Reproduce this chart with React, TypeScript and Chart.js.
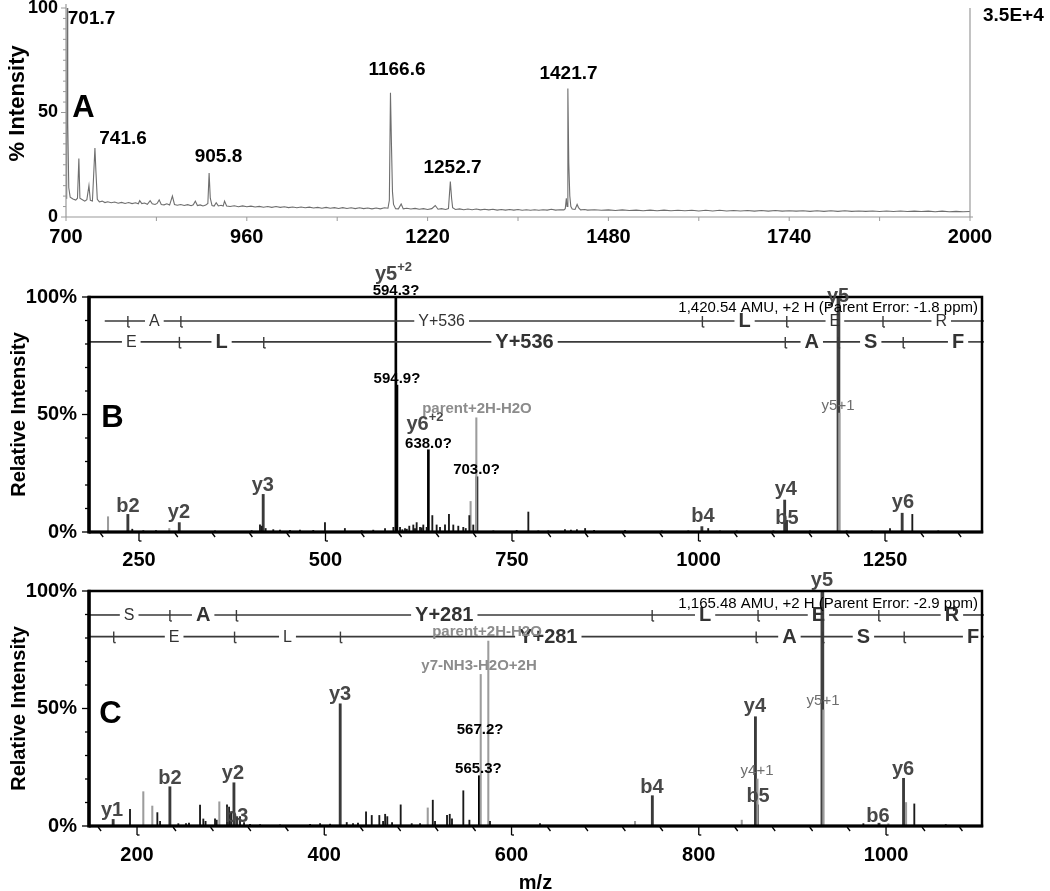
import React, { useEffect, useRef } from 'react';
import { Chart, registerables } from 'chart.js';

Chart.register(...registerables);

const FONT = '"Liberation Sans", Arial, Helvetica, sans-serif';

// ---------------- Panel A : MS survey spectrum (m/z, % intensity) ----------------
const A_X_TICKS = [700, 960, 1220, 1480, 1740, 2000];
const A_Y_TICKS = [0, 50, 100];
const SPEC_A: [number, number][] = [
  [700, 9], [701, 40], [701.7, 100], [702.5, 45], [704, 14], [706, 9.5], [710, 8.6], [714, 8.1], [716.5, 9],
  [718.5, 28], [720, 9], [723, 8.4], [727, 7.6], [730, 8.3], [733, 15], [735, 8], [738, 7.7], [741.6, 33],
  [743, 22], [745, 8.5], [748, 7.2], [752, 7.6], [756, 6.9], [760, 7.3], [765, 6.8], [770, 7.2], [775, 6.6],
  [780, 7.0], [785, 6.5], [790, 6.9], [795, 6.4], [800, 6.8], [804, 6.3], [806, 7.8], [809, 6.4], [813, 6.7],
  [817, 6.1], [821, 7.8], [824, 6.3], [828, 6.0], [831, 6.5], [834, 8.2], [837, 6.0], [841, 5.8], [845, 6.3],
  [849, 5.7], [853, 10], [856, 6.0], [860, 5.6], [865, 6.0], [870, 5.5], [875, 5.9], [880, 5.4], [883, 5.8],
  [886, 7.6], [889, 5.5], [893, 5.8], [897, 5.3], [901, 5.7], [904, 6.5], [905.8, 21], [907.5, 9], [910, 5.5],
  [913, 5.2], [916, 6.8], [919, 5.3], [923, 5.6], [926, 5.2], [928, 7.6], [931, 5.3], [936, 5.0], [942, 5.4],
  [948, 4.9], [954, 5.3], [960, 4.9], [966, 5.2], [972, 4.8], [978, 5.1], [984, 4.7], [990, 5.0], [996, 4.6],
  [1002, 5.0], [1008, 4.6], [1014, 4.9], [1020, 4.5], [1026, 4.8], [1032, 4.4], [1038, 4.8], [1044, 4.4],
  [1050, 4.7], [1056, 4.3], [1062, 4.6], [1068, 4.2], [1074, 4.6], [1080, 4.2], [1086, 4.5], [1092, 4.1],
  [1098, 4.5], [1104, 4.1], [1110, 4.4], [1116, 4.0], [1122, 4.4], [1128, 4.0], [1134, 4.3], [1140, 3.9],
  [1146, 4.3], [1152, 3.9], [1158, 4.4], [1163, 4.2], [1165, 8], [1166.6, 59.4], [1168, 35], [1169.5, 12],
  [1171, 6], [1174, 4.0], [1178, 3.9], [1182, 6.2], [1185, 3.9], [1190, 4.2], [1196, 3.8], [1202, 4.1],
  [1208, 3.7], [1214, 4.0], [1220, 3.6], [1226, 4.0], [1231, 5.5], [1235, 3.7], [1240, 4.0], [1246, 3.6],
  [1250, 4.0], [1252.7, 17], [1254.5, 9], [1256, 4.5], [1260, 3.6], [1266, 3.9], [1272, 3.5], [1278, 3.8],
  [1284, 3.5], [1290, 3.8], [1296, 3.4], [1302, 3.7], [1308, 3.4], [1314, 3.7], [1320, 3.3], [1326, 3.6],
  [1332, 3.3], [1338, 3.6], [1344, 3.3], [1350, 3.6], [1356, 3.2], [1362, 3.5], [1368, 3.2], [1374, 3.5],
  [1380, 3.2], [1386, 3.5], [1392, 3.3], [1398, 3.7], [1404, 3.3], [1410, 3.5], [1416, 3.4], [1418, 4],
  [1419.5, 9], [1420.5, 5], [1421.7, 61.5], [1423, 26], [1424.5, 10], [1426, 5], [1428, 3.8], [1432, 3.6],
  [1435, 6], [1437, 4.5], [1440, 3.4], [1446, 3.6], [1450, 3.3], [1460, 3.5], [1470, 3.2], [1480, 3.4],
  [1490, 3.1], [1500, 3.4], [1510, 3.1], [1520, 3.3], [1530, 3.0], [1540, 3.3], [1550, 3.0], [1560, 3.3],
  [1570, 3.0], [1580, 3.2], [1590, 3.0], [1600, 3.2], [1610, 2.9], [1620, 3.2], [1630, 2.9], [1640, 3.2],
  [1650, 2.9], [1660, 3.1], [1670, 2.9], [1680, 3.1], [1690, 2.8], [1700, 3.1], [1710, 2.8], [1720, 3.1],
  [1730, 2.8], [1740, 3.0], [1750, 2.8], [1760, 3.0], [1770, 2.7], [1780, 3.0], [1790, 2.7], [1800, 3.0],
  [1810, 2.7], [1820, 3.0], [1830, 2.7], [1840, 2.9], [1850, 2.7], [1860, 2.9], [1870, 2.6], [1880, 2.9],
  [1890, 2.6], [1900, 2.9], [1910, 2.6], [1920, 2.8], [1930, 2.6], [1940, 2.8], [1950, 2.5], [1960, 2.8],
  [1970, 2.5], [1980, 2.7], [1990, 2.5], [2000, 2.6],
];
const A_LABELS = [
  { text: '701.7', mz: 736.7, y: 92.3 },
  { text: '741.6', mz: 782, y: 34.9 },
  { text: '905.8', mz: 919.3, y: 26.3 },
  { text: '1166.6', mz: 1176, y: 67.9 },
  { text: '1252.7', mz: 1255.8, y: 21.1 },
  { text: '1421.7', mz: 1422.6, y: 66.0 },
];
const A_LETTER = { text: 'A', mz: 725.2, y: 47.8 };
const A_SCALE_TEXT = '3.5E+4';

// ---------------- Panel B : MS/MS of 1,420.54 (m/z, % relative intensity) ----------------
const B_X_TICKS = [250, 500, 750, 1000, 1250];
const B_PLAIN: [number, number][] = [
  [241, 1.2], [255.8, 0.6], [272.8, 0.6], [351.9, 0.5], [401, 0.6], [412.2, 3], [414.5, 2.5], [419.8, 1.5],
  [430, 1], [439, 0.8], [452.4, 0.7], [465.8, 0.8], [483.6, 0.7], [499.3, 4], [526, 1.5], [548.5, 0.6],
  [564, 0.8], [579.8, 1.5], [591, 2], [599.9, 2], [603, 1], [606.6, 1.5], [609, 1.2], [612.3, 2.5], [617.7, 3],
  [620, 1.5], [622.2, 4], [626.7, 2], [629, 1.8], [631.1, 3], [635.6, 2], [643.2, 7], [649, 3], [653.5, 2],
  [660.2, 3], [665.5, 7.5], [671.3, 3], [678, 2.5], [684.7, 2], [688, 1.5], [692.8, 7], [698.1, 3], [725, 0.5],
  [756.3, 0.7], [771.9, 8.5], [785.3, 0.5], [798.7, 0.5], [821, 1], [829, 0.8], [837, 1], [848, 1.5], [860, 0.7],
  [901.5, 0.7], [950.7, 0.5], [986.3, 0.5], [1013, 1.5], [1028.8, 0.5], [1051.2, 0.5], [1100.3, 0.5],
  [1149.5, 0.5], [1198.6, 0.5], [1232.2, 0.5], [1256.7, 1.5], [1286.6, 7.5], [1321.4, 0.5],
];
const B_GREY: [number, number][] = [[208.5, 6.5], [290.6, 1.5], [694.5, 13], [702.2, 48.6], [1188.6, 50.6]];
const B_NUM: [number, number][] = [[594.3, 100], [595.8, 62.5], [637.9, 35], [703, 23.5]];
const B_ION: [number, number][] = [[235.1, 7.5], [304, 4], [416.5, 16], [1004.5, 2.3], [1115.5, 13.6], [1118, 5], [1273, 8]];
const B_BASE: [number, number][] = [[1187.6, 100]];
const B_LABELS = [
  { text: 'y5', sup: '+2', mz: 591.2, y: 107.2, kind: 'ion' },
  { text: '594.3?', mz: 594.5, y: 100.9, kind: 'num' },
  { text: '594.9?', mz: 595.8, y: 63.4, kind: 'num' },
  { text: 'y6', sup: '+2', mz: 633.4, y: 43.4, kind: 'ion' },
  { text: '638.0?', mz: 638, y: 35.7, kind: 'num' },
  { text: 'parent+2H-H2O', mz: 703, y: 50.6, kind: 'grey' },
  { text: '703.0?', mz: 702.4, y: 24.7, kind: 'num' },
  { text: 'b2', mz: 235.3, y: 8.5, kind: 'ion' },
  { text: 'y2', mz: 303.6, y: 6, kind: 'ion' },
  { text: 'y3', mz: 416, y: 17.4, kind: 'ion' },
  { text: 'b4', mz: 1006, y: 4.3, kind: 'ion' },
  { text: 'y4', mz: 1117, y: 15.7, kind: 'ion' },
  { text: 'b5', mz: 1118.6, y: 3.4, kind: 'ion' },
  { text: 'y5', mz: 1187, y: 97.9, kind: 'ion' },
  { text: 'y5+1', mz: 1187, y: 51.9, kind: 'small' },
  { text: 'y6', mz: 1274, y: 10.2, kind: 'ion' },
];
const B_B_IONS = [148.08, 235.11, 306.15, 1005.2, 1118.3, 1247.3, 1403.4];
const B_B_RES = ['S', 'A', 'Y+536', 'L', 'E', 'R'];
const B_B_BOLD = [false, false, false, true, false, false];
const B_Y_IONS = [175.12, 304.16, 417.25, 1116.3, 1187.3, 1274.4, 1421.4];
const B_Y_RES = ['E', 'L', 'Y+536', 'A', 'S', 'F'];
const B_Y_BOLD = [false, true, true, true, true, true];
const B_INFO = '1,420.54 AMU, +2 H (Parent Error: -1.8 ppm)';

// ---------------- Panel C : MS/MS of 1,165.48 ----------------
const C_X_TICKS = [200, 400, 600, 800, 1000];
const C_PLAIN: [number, number][] = [
  [192.5, 7.1], [221.7, 5.7], [224.6, 2], [244.1, 1], [252.3, 1], [255.5, 1.2], [267.3, 8.9], [270.8, 3],
  [273.2, 2], [283.3, 3], [285.1, 2.5], [296.1, 9], [298.3, 8], [300.4, 6], [310, 4], [314.3, 1.5], [320.7, 0.7],
  [331.4, 0.6], [352.7, 0.5], [384.8, 0.7], [395.5, 1], [406.2, 0.8], [424, 1.5], [430.7, 1], [436, 1.2],
  [444.6, 6], [450.7, 4.5], [458.8, 4.5], [462.8, 2], [465, 5], [467.3, 4], [472.4, 1.5], [481.6, 9],
  [493.4, 1], [502.3, 1], [515.9, 11], [518.3, 2], [531.1, 4.5], [534, 5], [536.4, 3], [548.5, 15], [555, 2.5],
  [577, 2], [630.4, 1], [975.8, 1], [1030.2, 9.4], [1063.8, 0.6],
];
const C_GREY: [number, number][] = [
  [206.7, 14.6], [216.3, 8.5], [287.9, 10.3], [510.5, 7.7], [567.1, 64.5], [575.2, 78.7], [731.9, 2],
  [845.9, 2.5], [862.7, 20], [933, 49.4], [1002.5, 1], [1021.4, 10],
];
const C_NUM: [number, number][] = [[565.6, 21.4]];
const C_ION: [number, number][] = [
  [174.5, 2.8], [235.1, 16.7], [303.5, 18.4], [306.5, 4], [417, 52], [750.4, 12.9], [860.5, 46.5],
  [992.5, 1.2], [1018.7, 20.3],
];
const C_BASE: [number, number][] = [[862.3, 9], [932, 100]];
const C_LABELS = [
  { text: 'y1', mz: 173.3, y: 4.3, kind: 'ion' },
  { text: 'b2', mz: 235.2, y: 17.9, kind: 'ion' },
  { text: 'y2', mz: 302.5, y: 20, kind: 'ion' },
  { text: 'b3', mz: 306.4, y: 1.7, kind: 'ion' },
  { text: 'y3', mz: 416.8, y: 53.6, kind: 'ion' },
  { text: 'parent+2H-H2O', mz: 573.8, y: 80.9, kind: 'grey' },
  { text: 'y7-NH3-H2O+2H', mz: 565.3, y: 66.4, kind: 'grey' },
  { text: '567.2?', mz: 566.4, y: 39.1, kind: 'num' },
  { text: '565.3?', mz: 564.6, y: 22.6, kind: 'num' },
  { text: 'b4', mz: 750, y: 14, kind: 'ion' },
  { text: 'y4', mz: 860, y: 48.5, kind: 'ion' },
  { text: 'y4+1', mz: 862.2, y: 21.7, kind: 'small' },
  { text: 'b5', mz: 863.3, y: 10.2, kind: 'ion' },
  { text: 'y5', mz: 931.6, y: 102.1, kind: 'ion' },
  { text: 'y5+1', mz: 932.7, y: 51.5, kind: 'small' },
  { text: 'b6', mz: 991.4, y: 1.7, kind: 'ion' },
  { text: 'y6', mz: 1018.2, y: 21.7, kind: 'ion' },
];
const C_B_IONS = [148.08, 235.11, 306.15, 750.2, 863.3, 992.3, 1148.4];
const C_B_RES = ['S', 'A', 'Y+281', 'L', 'E', 'R'];
const C_B_BOLD = [false, true, true, true, true, true];
const C_Y_IONS = [175.12, 304.16, 417.25, 861.3, 932.3, 1019.4, 1166.4];
const C_Y_RES = ['E', 'L', 'Y+281', 'A', 'S', 'F'];
const C_Y_BOLD = [false, false, true, true, true, true];
const C_INFO = '1,165.48 AMU, +2 H (Parent Error: -2.9 ppm)';
const STICK_Y_TICKS = [0, 50, 100];

// ---------------- helpers ----------------
const fixScale = (w?: number, h?: number) => (s: any) => {
  if (w !== undefined) s.width = w;
  if (h !== undefined) s.height = h;
  s.paddingTop = 0;
  s.paddingBottom = 0;
  s.paddingLeft = 0;
  s.paddingRight = 0;
};
const setTicks = (vals: number[]) => (s: any) => {
  s.ticks = vals.map((value) => ({ value }));
};

function line(ctx: CanvasRenderingContext2D, x1: number, y1: number, x2: number, y2: number) {
  ctx.beginPath();
  ctx.moveTo(x1, y1);
  ctx.lineTo(x2, y2);
  ctx.stroke();
}

const LABEL_STYLE: Record<string, { font: string; color: string }> = {
  ion: { font: `bold 20px ${FONT}`, color: '#474747' },
  num: { font: `bold 15px ${FONT}`, color: '#000' },
  grey: { font: `bold 15px ${FONT}`, color: '#8c8c8c' },
  small: { font: `15px ${FONT}`, color: '#6e6e6e' },
};

function drawLadder(ctx: CanvasRenderingContext2D, xs: any, a: any, y: number, ions: number[], res: string[], bold: boolean[]) {
  const items: { text: string; x: number; font: string; show: boolean; g0: number; g1: number }[] = [];
  for (let i = 0; i < res.length; i++) {
    const cx = xs.getPixelForValue((ions[i] + ions[i + 1]) / 2);
    const font = bold[i] ? `bold 20px ${FONT}` : `16px ${FONT}`;
    ctx.font = font;
    const w = ctx.measureText(res[i]).width;
    const show = cx - w / 2 >= a.left + 4 && cx + w / 2 <= a.right + 2;
    items.push({ text: res[i], x: cx, font, show, g0: cx - w / 2 - 4, g1: cx + w / 2 + 4 });
  }
  ctx.strokeStyle = '#3a3a3a';
  ctx.lineWidth = 1.6;
  let x = a.left;
  const end = a.right + 2;
  const gaps = items.filter((it) => it.g1 > a.left && it.g0 < end).sort((p, q) => p.g0 - q.g0);
  for (const g of gaps) {
    if (g.g0 > x) line(ctx, x, y, Math.min(g.g0, end), y);
    x = Math.max(x, g.g1);
  }
  if (x < end) line(ctx, x, y, end, y);
  ctx.lineWidth = 1.4;
  for (const m of ions) {
    const px = xs.getPixelForValue(m);
    if (px < a.left + 1 || px > a.right - 1) continue;
    line(ctx, px, y - 5, px, y + 6);
    line(ctx, px, y + 6, px + 2, y + 6);
  }
  ctx.fillStyle = '#333';
  ctx.textAlign = 'center';
  ctx.textBaseline = 'middle';
  for (const it of items) {
    if (!it.show) continue;
    ctx.font = it.font;
    ctx.fillText(it.text, it.x, y + 1);
  }
}

function buildA(canvas: HTMLCanvasElement) {
  const deco = {
    id: 'decoA',
    afterDraw(chart: any) {
      const { ctx, chartArea: a } = chart;
      const xs = chart.scales.x;
      const ys = chart.scales.y;
      ctx.save();
      ctx.strokeStyle = '#9a9a9a';
      ctx.lineWidth = 1.2;
      line(ctx, a.left, a.top - 4, a.left, a.bottom);
      line(ctx, a.left, a.bottom, a.right + 3, a.bottom);
      line(ctx, a.right, a.top, a.right, a.bottom);
      ctx.lineWidth = 1;
      for (let v = 0; v <= 100; v += 5) {
        const y = ys.getPixelForValue(v);
        line(ctx, a.left - (v % 50 === 0 ? 5 : 3), y, a.left, y);
      }
      for (let v = 700; v <= 2000; v += 130) {
        const x = xs.getPixelForValue(v);
        line(ctx, x, a.bottom, x, a.bottom + 4);
      }
      ctx.fillStyle = '#000';
      ctx.textAlign = 'center';
      ctx.textBaseline = 'alphabetic';
      ctx.font = `bold 19px ${FONT}`;
      for (const l of A_LABELS) ctx.fillText(l.text, xs.getPixelForValue(l.mz), ys.getPixelForValue(l.y));
      ctx.font = `bold 31px ${FONT}`;
      ctx.fillText(A_LETTER.text, xs.getPixelForValue(A_LETTER.mz), ys.getPixelForValue(A_LETTER.y));
      ctx.textAlign = 'left';
      ctx.font = `bold 19px ${FONT}`;
      ctx.fillText(A_SCALE_TEXT, a.right + 13, a.top + 13);
      ctx.restore();
    },
  };
  return new Chart(canvas, {
    type: 'line',
    data: {
      datasets: [
        {
          data: SPEC_A.map(([x, y]) => ({ x, y })),
          borderColor: '#6e6e6e',
          borderWidth: 1.1,
          pointRadius: 0,
          fill: false,
          tension: 0,
        },
      ],
    },
    options: {
      responsive: false,
      animation: false,
      layout: { padding: { left: 0, top: 8, right: 80, bottom: 0 } },
      plugins: { legend: { display: false }, tooltip: { enabled: false } },
      scales: {
        x: {
          type: 'linear',
          min: 700,
          max: 2000,
          grid: { display: false, drawTicks: false },
          border: { display: false },
          afterBuildTicks: setTicks(A_X_TICKS),
          ticks: {
            autoSkip: false,
            maxRotation: 0,
            padding: 8,
            color: '#000',
            font: { family: FONT, size: 20, weight: 'bold' },
            callback: (v: any) => String(v),
          },
          afterFit: fixScale(undefined, 43),
        },
        y: {
          min: 0,
          max: 100,
          grid: { display: false, drawTicks: false },
          border: { display: false },
          afterBuildTicks: setTicks(A_Y_TICKS),
          ticks: {
            padding: 8,
            color: '#000',
            font: { family: FONT, size: 18, weight: 'bold' },
            callback: (v: any) => String(v),
          },
          title: {
            display: true,
            text: '   % Intensity',
            color: '#000',
            font: { family: FONT, size: 22, weight: 'bold' },
            padding: { top: 5, bottom: 0 },
          },
          afterFit: fixScale(66, undefined),
        },
      },
    },
    plugins: [deco],
  } as any);
}

function buildStick(canvas: HTMLCanvasElement, p: any) {
  const deco = {
    id: 'decoStick',
    afterDraw(chart: any) {
      const { ctx, chartArea: a } = chart;
      const xs = chart.scales.x;
      const ys = chart.scales.y;
      ctx.save();
      ctx.strokeStyle = '#000';
      ctx.lineWidth = 1.3;
      for (let v = Math.ceil(p.min / p.minor) * p.minor; v <= p.max; v += p.minor) {
        const x = xs.getPixelForValue(v);
        if (v % p.major === 0) {
          line(ctx, x, a.bottom, x, a.bottom + 9);
          line(ctx, x, a.bottom + 9, x + 2.5, a.bottom + 9);
        } else {
          line(ctx, x - 1.5, a.bottom + 1, x + 1.5, a.bottom + 5);
        }
      }
      for (let v = 0; v <= 100; v += 10) {
        const y = ys.getPixelForValue(v);
        line(ctx, a.left - (v % 50 === 0 ? 7 : 4), y, a.left, y);
      }
      drawLadder(ctx, xs, a, ys.getPixelForValue(p.ladderB), p.bIons, p.bRes, p.bBold);
      drawLadder(ctx, xs, a, ys.getPixelForValue(p.ladderY), p.yIons, p.yRes, p.yBold);
      ctx.strokeStyle = '#000';
      ctx.lineWidth = 2.5;
      ctx.strokeRect(a.left, a.top, a.right - a.left, a.bottom - a.top);
      ctx.lineWidth = 3.5;
      line(ctx, a.left, a.top - 1.2, a.left, a.bottom + 1.5);
      ctx.lineWidth = 3;
      line(ctx, a.left, a.bottom, a.right + 1.2, a.bottom);

      ctx.textAlign = 'center';
      ctx.textBaseline = 'alphabetic';
      for (const l of p.labels) {
        const st = LABEL_STYLE[l.kind];
        ctx.fillStyle = st.color;
        ctx.font = st.font;
        const x = xs.getPixelForValue(l.mz);
        const y = ys.getPixelForValue(l.y);
        if (l.sup) {
          const w1 = ctx.measureText(l.text).width;
          ctx.font = `bold 13px ${FONT}`;
          const w2 = ctx.measureText(l.sup).width;
          const x0 = x - (w1 + w2) / 2;
          ctx.textAlign = 'left';
          ctx.font = st.font;
          ctx.fillText(l.text, x0, y);
          ctx.font = `bold 13px ${FONT}`;
          ctx.fillText(l.sup, x0 + w1, y - 9);
          ctx.textAlign = 'center';
        } else {
          ctx.fillText(l.text, x, y);
        }
      }
      ctx.fillStyle = '#000';
      ctx.textAlign = 'right';
      ctx.font = `15px ${FONT}`;
      ctx.fillText(p.info, a.right - 4, ys.getPixelForValue(p.infoY));
      ctx.textAlign = 'center';
      ctx.font = `bold 31px ${FONT}`;
      ctx.fillText(p.letter.text, xs.getPixelForValue(p.letter.mz), ys.getPixelForValue(p.letter.y));
      ctx.restore();
    },
  };
  const ds = (d: [number, number][], color: string, w: number) => ({
    data: d.map(([x, y]) => ({ x, y })),
    backgroundColor: color,
    borderWidth: 0,
    barThickness: w,
    grouped: false,
  });
  return new Chart(canvas, {
    type: 'bar',
    data: {
      datasets: [
        ds(p.plain, '#1a1a1a', 1.2),
        ds(p.grey, '#9c9c9c', 1.4),
        ds(p.num, '#000', 2),
        ds(p.ion, '#3a3a3a', 2.2),
        ds(p.base, '#404040', 3),
      ],
    },
    options: {
      responsive: false,
      animation: false,
      layout: { padding: { left: 0, top: p.padTop, right: 68, bottom: 0 } },
      plugins: { legend: { display: false }, tooltip: { enabled: false } },
      scales: {
        x: {
          type: 'linear',
          offset: false,
          min: p.min,
          max: p.max,
          grid: { display: false, drawTicks: false },
          border: { display: false },
          afterBuildTicks: setTicks(p.xTicks),
          ticks: {
            autoSkip: false,
            maxRotation: 0,
            padding: p.labelPad,
            color: '#000',
            font: { family: FONT, size: 20, weight: 'bold' },
            callback: (v: any) => String(v),
          },
          title: {
            display: !!p.xTitle,
            text: p.xTitle || '',
            color: '#000',
            font: { family: FONT, size: 20, weight: 'bold', lineHeight: 1 },
            padding: { top: 0, bottom: -2 },
          },
          afterFit: fixScale(undefined, p.xHeight),
        },
        y: {
          min: 0,
          max: 100,
          grid: { display: false, drawTicks: false },
          border: { display: false },
          afterBuildTicks: setTicks(STICK_Y_TICKS),
          ticks: {
            padding: 12,
            color: '#000',
            font: { family: FONT, size: 20, weight: 'bold' },
            callback: (v: any) => v + '%',
          },
          title: {
            display: true,
            text: 'Relative Intensity',
            color: '#000',
            font: { family: FONT, size: 20, weight: 'bold' },
            padding: { top: 7, bottom: 0 },
          },
          afterFit: fixScale(89, undefined),
        },
      },
    },
    plugins: [deco],
  } as any);
}

const PANEL_B = {
  min: 183, max: 1380, major: 250, minor: 50, padTop: 37, xHeight: 38, labelPad: 16, xTicks: B_X_TICKS,
  plain: B_PLAIN, grey: B_GREY, num: B_NUM, ion: B_ION, base: B_BASE, labels: B_LABELS,
  bIons: B_B_IONS, bRes: B_B_RES, bBold: B_B_BOLD, yIons: B_Y_IONS, yRes: B_Y_RES, yBold: B_Y_BOLD,
  ladderB: 89.8, ladderY: 80.9, info: B_INFO, infoY: 93.5,
  letter: { text: 'B', mz: 214.5, y: 44.7 }, xTitle: '',
};
const PANEL_C = {
  min: 148.7, max: 1102.5, major: 200, minor: 40, padTop: 21, xHeight: 65, labelPad: 17, xTicks: C_X_TICKS,
  plain: C_PLAIN, grey: C_GREY, num: C_NUM, ion: C_ION, base: C_BASE, labels: C_LABELS,
  bIons: C_B_IONS, bRes: C_B_RES, bBold: C_B_BOLD, yIons: C_Y_IONS, yRes: C_Y_RES, yBold: C_Y_BOLD,
  ladderB: 89.8, ladderY: 80.6, info: C_INFO, infoY: 92.8,
  letter: { text: 'C', mz: 171.7, y: 43.8 }, xTitle: 'm/z',
};

export default function App() {
  const refA = useRef<HTMLCanvasElement>(null);
  const refB = useRef<HTMLCanvasElement>(null);
  const refC = useRef<HTMLCanvasElement>(null);
  useEffect(() => {
    const charts = [buildA(refA.current!), buildStick(refB.current!, PANEL_B), buildStick(refC.current!, PANEL_C)];
    return () => charts.forEach((c) => c.destroy());
  }, []);
  return (
    <div style={{ position: 'absolute', left: 0, top: 0, width: 1050, height: 891, background: '#fff', overflow: 'hidden' }}>
      <canvas ref={refA} width={1050} height={260} style={{ position: 'absolute', left: 0, top: 0 }} />
      <canvas ref={refB} width={1050} height={310} style={{ position: 'absolute', left: 0, top: 260 }} />
      <canvas ref={refC} width={1050} height={321} style={{ position: 'absolute', left: 0, top: 570 }} />
    </div>
  );
}
